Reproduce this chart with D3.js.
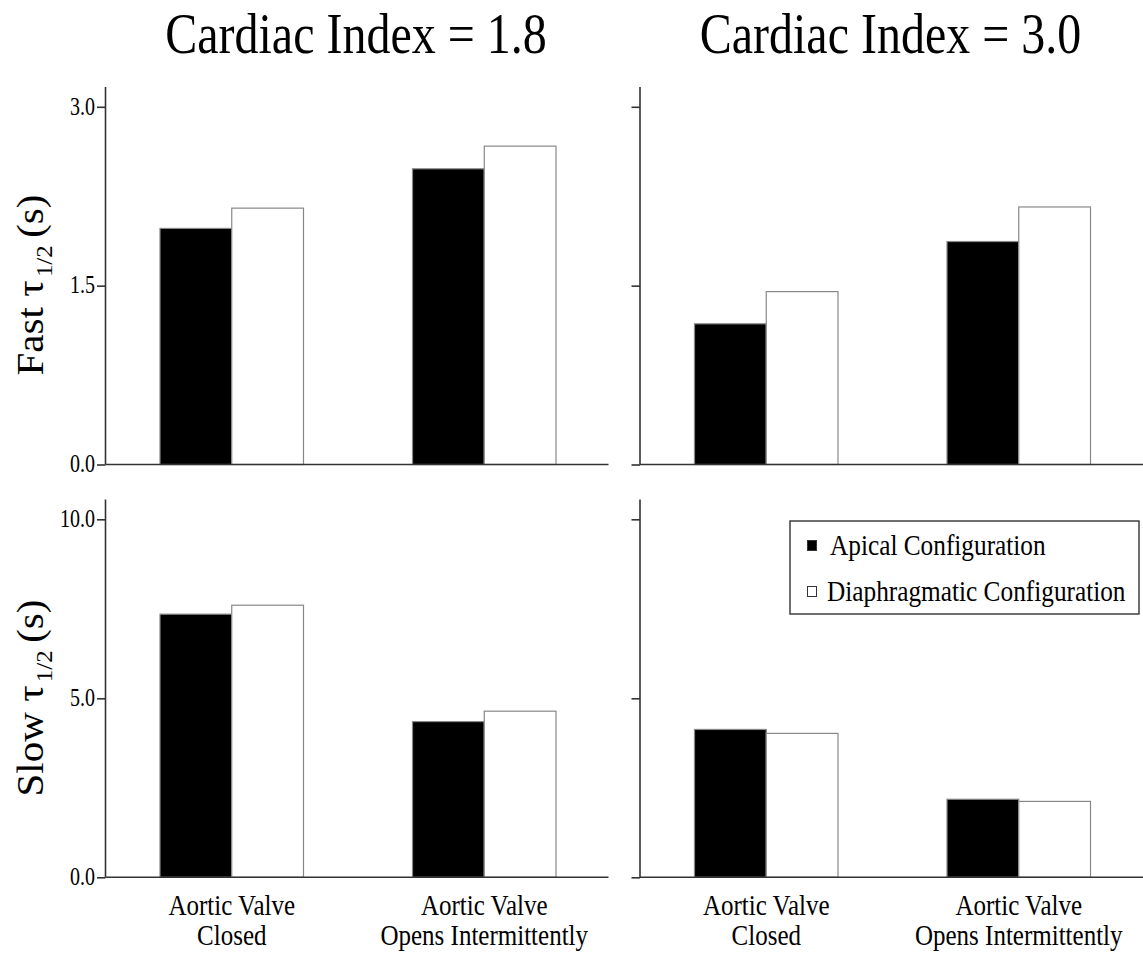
<!DOCTYPE html>
<html lang="en">
<head>
  <meta charset="UTF-8" />
  <title>Cardiac Index half-times</title>
  <script src="https://d3js.org/d3.v7.min.js"></script>
  <style>
    body { margin: 0; background: #fff; }
    svg { display: block; }
    text { font-family: "Liberation Serif", "Times New Roman", serif; fill: #000; }
  </style>
</head>
<body>
<svg id="chart" width="1143" height="961"></svg>
<script>
// data
const categories = [["Aortic Valve", "Closed"], ["Aortic Valve", "Opens Intermittently"]];
const series = ["Apical Configuration", "Diaphragmatic Configuration"];
const titles = ["Cardiac Index = 1.8", "Cardiac Index = 3.0"];

const fastApical18 = [1.98, 2.48];
const fastDiaph18  = [2.15, 2.67];
const fastApical30 = [1.18, 1.87];
const fastDiaph30  = [1.45, 2.16];

const slowApical18 = [7.35, 4.35];
const slowDiaph18  = [7.60, 4.64];
const slowApical30 = [4.13, 2.18];
const slowDiaph30  = [4.02, 2.12];

const fastTicks = [0, 1.5, 3.0];
const slowTicks = [0, 5.0, 10.0];

const svg = d3.select("#chart");
const stretch = 1.22;   // the figure's lettering is tall and narrow
const fills = ["#000", "#fff"];

const panelX = [105.5, 640];
const panelW = 503;
const rows = [
  { base: 464.5, top: 106.8, axisTop: 87, max: 3.0, ticks: fastTicks,
    data: [[fastApical18, fastDiaph18], [fastApical30, fastDiaph30]] },
  { base: 877.3, top: 519.3, axisTop: 499.5, max: 10.0, ticks: slowTicks,
    data: [[slowApical18, slowDiaph18], [slowApical30, slowDiaph30]] }
];

rows.forEach((row, r) => {
  panelX.forEach((x0, c) => {
    const g = svg.append("g");
    const y = d3.scaleLinear().domain([0, row.max]).range([row.base, row.top]);
    const x = d3.scaleBand()
      .domain(categories.map(d => d.join(" ")))
      .range([x0, x0 + 505])
      .paddingInner(0.4317)
      .paddingOuter(0.2158);
    const xs = d3.scaleBand().domain(series).range([0, x.bandwidth()]);

    // bars
    const [apical, diaph] = row.data[c];
    categories.forEach((cat, i) => {
      [apical[i], diaph[i]].forEach((v, s) => {
        g.append("rect")
          .attr("x", x(cat.join(" ")) + xs(series[s]))
          .attr("y", y(v))
          .attr("width", xs.bandwidth())
          .attr("height", y(0) - y(v))
          .attr("fill", fills[s])
          .attr("stroke", "#888")
          .attr("stroke-width", 1.2);
      });
    });

    // axes
    const yAxis = d3.axisLeft(y)
      .tickValues(row.ticks)
      .tickSize(8.5)
      .tickSizeOuter(0)
      .tickPadding(2)
      .tickFormat(c === 0 ? d3.format(".1f") : () => "");
    const ag = g.append("g").attr("transform", `translate(${x0},0)`).call(yAxis);
    ag.select(".domain").remove();
    ag.selectAll("line").attr("stroke", "#333").attr("stroke-width", 1.6);
    ag.selectAll("text")
      .attr("font-size", 20)
      .attr("dy", "0.3em")
      .attr("transform", `scale(1,${stretch})`);

    g.append("line")
      .attr("x1", x0).attr("x2", x0)
      .attr("y1", row.axisTop).attr("y2", row.base)
      .attr("stroke", "#333").attr("stroke-width", 1.6);
    g.append("line")
      .attr("x1", x0).attr("x2", x0 + panelW)
      .attr("y1", row.base).attr("y2", row.base)
      .attr("stroke", "#333").attr("stroke-width", 1.6);

    // category labels under the lower row
    if (r === 1) {
      categories.forEach(cat => {
        const cx = x(cat.join(" ")) + x.bandwidth() / 2;
        cat.forEach((line, k) => {
          g.append("text")
            .attr("transform", `translate(${cx},${915 + k * 30}) scale(1,1.15)`)
            .attr("text-anchor", "middle")
            .attr("font-size", 25)
            .text(line);
        });
      });
    }

    // column titles
    if (r === 0) {
      svg.append("text")
        .attr("transform", `translate(${x0 + 250.5},53) scale(1,1.18)`)
        .attr("text-anchor", "middle")
        .attr("font-size", 48)
        .text(titles[c]);
    }
  });
});

// y axis titles
[["Fast", 285], ["Slow", 698]].forEach(([word, cy]) => {
  const t = svg.append("text")
    .attr("transform", `translate(43,${cy}) rotate(-90) scale(1.08,1)`)
    .attr("text-anchor", "middle")
    .attr("font-size", 38);
  t.append("tspan").text(word + " \u03c4");
  t.append("tspan").attr("font-size", 23).attr("dy", 9).attr("dx", 3).text("1/2");
  t.append("tspan").attr("dy", -9).attr("dx", 7).text("(s)");
});

// legend
const legend = svg.append("g").attr("transform", "translate(790,521)");
legend.append("rect")
  .attr("width", 349).attr("height", 93)
  .attr("fill", "#fff").attr("stroke", "#333").attr("stroke-width", 1.4);
series.forEach((s, i) => {
  const item = legend.append("g").attr("transform", `translate(0,${19 + i * 46})`);
  item.append("rect")
    .attr("x", 17.5).attr("y", 0.5)
    .attr("width", 9).attr("height", 10)
    .attr("fill", fills[i]).attr("stroke", "#333").attr("stroke-width", 1);
  item.append("text")
    .attr("transform", `translate(${i === 0 ? 40 : 37},15) scale(1,1.2)`)
    .attr("font-size", 25.3)
    .text(s);
});
</script>
</body>
</html>
